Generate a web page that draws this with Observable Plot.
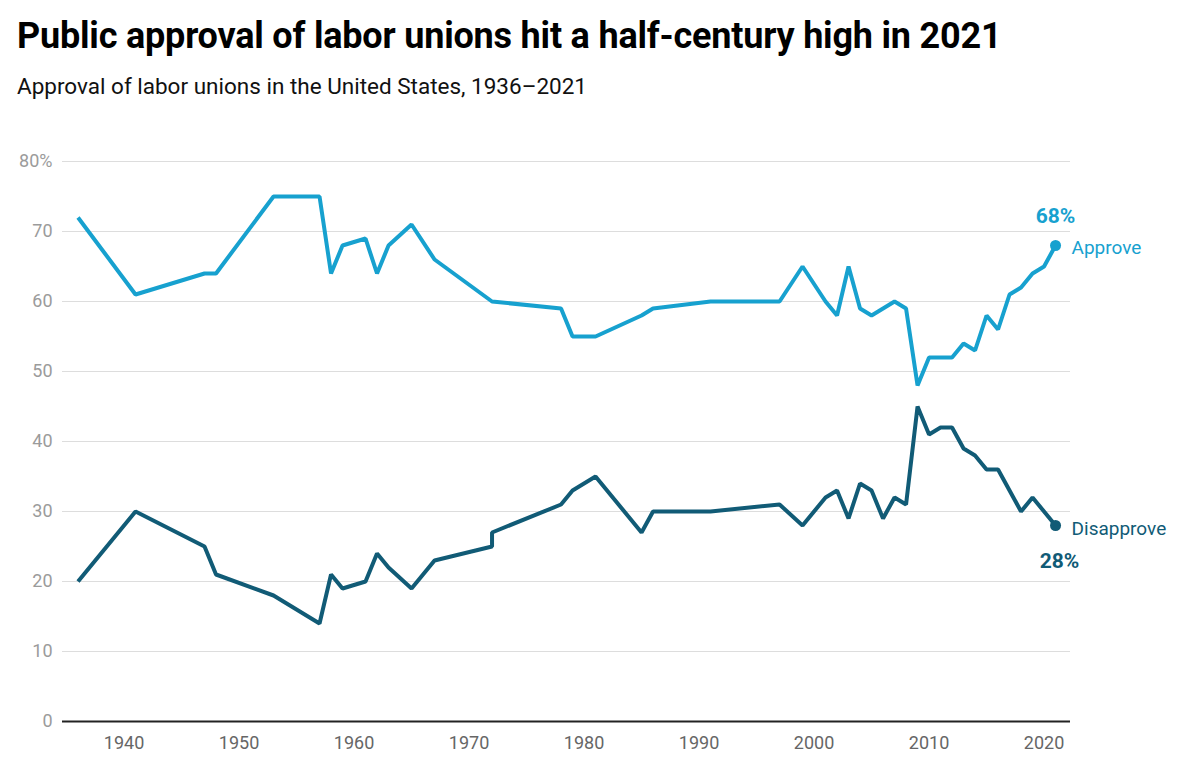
<!DOCTYPE html>
<html>
<head>
<meta charset="utf-8">
<script src="https://cdn.jsdelivr.net/npm/d3@7"></script>
<script src="https://cdn.jsdelivr.net/npm/@observablehq/plot@0.6"></script>
<style>
  html, body { margin: 0; padding: 0; background: #fff; }
  body { width: 1200px; height: 773px; position: relative; overflow: hidden; font-family: Roboto, sans-serif; }
  #title { position: absolute; left: 17px; top: 14.5px; font-size: 36px; font-weight: 700; color: #000; white-space: nowrap; letter-spacing: -0.2px; }
  #subtitle { position: absolute; left: 17px; top: 73px; font-size: 22.5px; font-weight: 400; color: #111; white-space: nowrap; }
  #chart { position: absolute; left: 0; top: 130px; }
</style>
</head>
<body>
<div id="title">Public approval of labor unions hit a half-century high in 2021</div>
<div id="subtitle">Approval of labor unions in the United States, 1936–2021</div>
<div id="chart"></div>
<script>
const years = [1936,1941,1947,1948,1953,1957,1958,1959,1961,1962,1963,1965,1967,1972,1972,1978,1979,1981,1985,1986,1991,1997,1999,2001,2002,2003,2004,2005,2006,2007,2008,2009,2010,2011,2012,2013,2014,2015,2016,2017,2018,2019,2020,2021];
const approve = [72,61,64,64,75,75,64,68,69,64,68,71,66,60,60,59,55,55,58,59,60,60,65,60,58,65,59,58,59,60,59,48,52,52,52,54,53,58,56,61,62,64,65,68];
const disapprove = [20,30,25,21,18,14,21,19,20,24,22,19,23,25,27,31,33,35,27,30,30,31,28,32,33,29,34,33,29,32,31,45,41,42,42,39,38,36,36,33,30,32,30,28];
const yTicks = [0,10,20,30,40,50,60,70,80];
const xTicks = [1940,1950,1960,1970,1980,1990,2000,2010,2020];

const approveColor = "#17a1cf";
const disapproveColor = "#115b76";

const approveData = years.map((y, i) => ({year: y, value: approve[i]}));
const disapproveData = years.map((y, i) => ({year: y, value: disapprove[i]}));
const lastA = approveData[approveData.length - 1];
const lastD = disapproveData[disapproveData.length - 1];

const chart = Plot.plot({
  width: 1200,
  height: 643,
  marginLeft: 62,
  marginRight: 130,
  marginTop: 31,
  marginBottom: 52,
  style: {fontFamily: "Roboto, sans-serif", background: "#fff"},
  x: {domain: [1934.65, 2022.3], ticks: xTicks, tickFormat: d => String(d), label: null},
  y: {domain: [0, 80], ticks: yTicks, label: null},
  marks: [
    Plot.gridY(yTicks.filter(d => d > 0), {stroke: "#dddddd", strokeOpacity: 1, strokeWidth: 1.2}),
    Plot.axisY({ticks: yTicks, tickSize: 0, tickPadding: 10, fontSize: 18, fill: "#9b9b9b",
      tickFormat: d => d === 80 ? "80%" : String(d)}),
    Plot.axisX({ticks: xTicks, tickSize: 0, tickPadding: 15, fontSize: 18, fill: "#666",
      tickFormat: d => String(d)}),
    Plot.ruleY([0], {stroke: "#222", strokeWidth: 2}),
    Plot.line(approveData, {x: "year", y: "value", stroke: approveColor, strokeWidth: 4, strokeLinejoin: "miter", strokeLinecap: "butt"}),
    Plot.line(disapproveData, {x: "year", y: "value", stroke: disapproveColor, strokeWidth: 4, strokeLinejoin: "miter", strokeLinecap: "butt"}),
    Plot.dot([lastA], {x: "year", y: "value", r: 5.5, fill: approveColor}),
    Plot.dot([lastD], {x: "year", y: "value", r: 5.5, fill: disapproveColor}),
    Plot.text([lastA], {x: "year", y: "value", text: d => d.value + "%", fill: approveColor, fontSize: 21, fontWeight: 700, textAnchor: "middle", lineAnchor: "bottom", dy: -23}),
    Plot.text([lastD], {x: "year", y: "value", text: d => d.value + "%", fill: disapproveColor, fontSize: 21, fontWeight: 700, textAnchor: "middle", lineAnchor: "bottom", dx: 4, dy: 42}),
    Plot.text([lastA], {x: "year", y: "value", text: () => "Approve", fill: approveColor, fontSize: 19, textAnchor: "start", lineAnchor: "middle", dx: 16, dy: 2}),
    Plot.text([lastD], {x: "year", y: "value", text: () => "Disapprove", fill: disapproveColor, fontSize: 19, textAnchor: "start", lineAnchor: "middle", dx: 16, dy: 3})
  ]
});
document.getElementById("chart").appendChild(chart);
</script>
</body>
</html>
